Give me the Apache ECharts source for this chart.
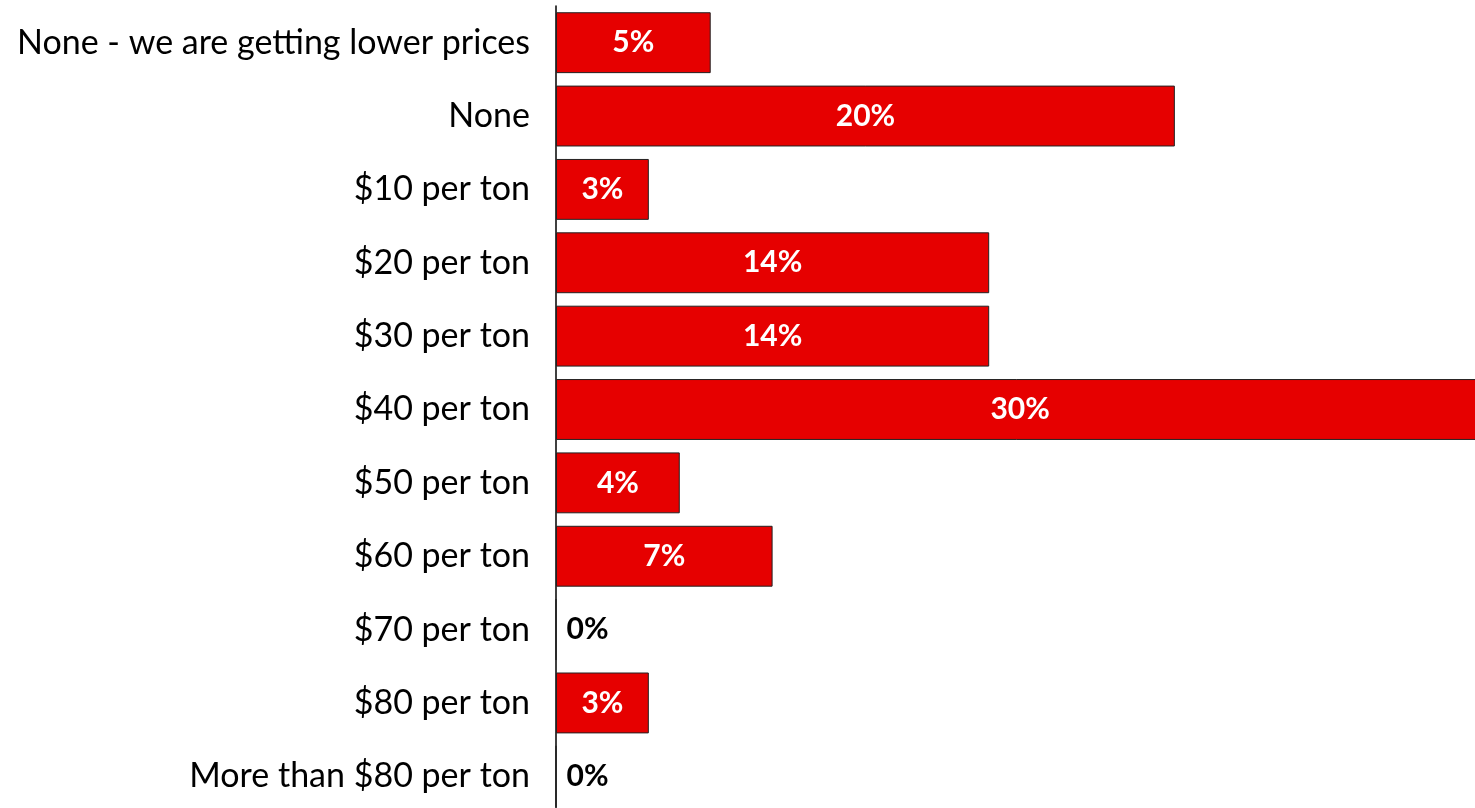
<!DOCTYPE html>
<html>
<head>
<meta charset="utf-8">
<script src="https://cdn.jsdelivr.net/npm/echarts@6/dist/echarts.min.js"></script>
<style>
html,body{margin:0;padding:0;background:#fff;}
#chart{width:1475px;height:808px;}
</style>
</head>
<body>
<div id="chart"></div>
<script>
const categories = [
  "None - we are getting lower prices",
  "None",
  "$10 per ton",
  "$20 per ton",
  "$30 per ton",
  "$40 per ton",
  "$50 per ton",
  "$60 per ton",
  "$70 per ton",
  "$80 per ton",
  "More than $80 per ton"
];
const values = [5, 20, 3, 14, 14, 30, 4, 7, 0, 3, 0];

const chart = echarts.init(document.getElementById('chart'));
const FONT = 'Lato';
chart.setOption({
  animation: false,
  grid: { left: 556, top: 6, right: 0, bottom: -5, containLabel: false, outerBoundsMode: 'none' },
  xAxis: {
    type: 'value', min: 0, max: 29.7,
    show: false
  },
  yAxis: {
    type: 'category',
    data: categories,
    inverse: true,
    axisLine: { show: true, lineStyle: { color: '#000', width: 1.5 } },
    axisTick: { show: false },
    axisLabel: { color: '#000', fontFamily: FONT, fontSize: 34, margin: 26 }
  },
  series: [{
    type: 'bar',
    data: values.map(v => ({
      value: v,
      label: v === 0
        ? { show: true, position: 'insideLeft', offset: [6, 0], color: '#000' }
        : { show: true, position: 'inside', color: '#fff' }
    })),
    barCategoryGap: '17%',
    clip: false,
    itemStyle: { color: '#E60000', borderColor: '#222', borderWidth: 1 },
    label: { fontFamily: FONT, fontSize: 30, fontWeight: 'bold', formatter: p => p.value + '%' }
  }]
});
</script>
</body>
</html>
